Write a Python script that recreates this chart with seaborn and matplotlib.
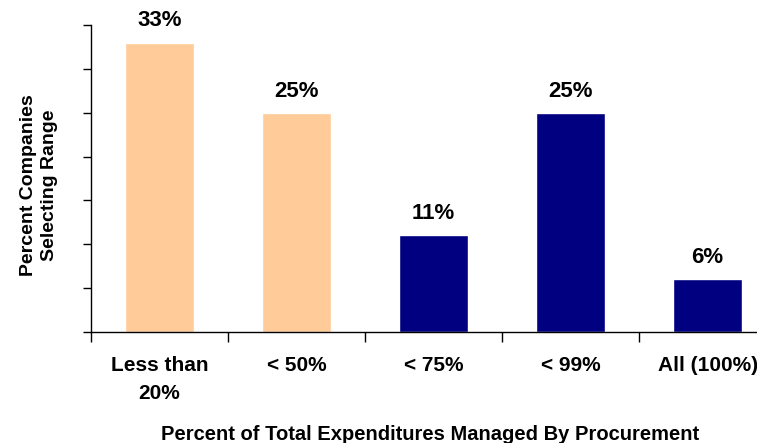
import matplotlib
matplotlib.use('Agg')
import matplotlib.pyplot as plt
import seaborn as sns
import numpy as np

categories = ['Less than\n20%', '< 50%', '< 75%', '< 99%', 'All (100%)']
values = [33, 25, 11, 25, 6]
value_labels = ['33%', '25%', '11%', '25%', '6%']
bar_colors = ['#FFCC99', '#FFCC99', '#000080', '#000080', '#000080']

sns.set_style('white')
plt.rcParams['font.family'] = ['Liberation Sans', 'DejaVu Sans']
plt.rcParams['text.color'] = 'black'
plt.rcParams['xtick.color'] = 'black'
plt.rcParams['ytick.color'] = 'black'

fig = plt.figure(figsize=(7.57, 4.43), dpi=100)
ax = fig.add_axes([0.1202, 0.2506, 0.905, 0.693])

sns.barplot(x=categories, y=values, hue=categories, palette=bar_colors,
            legend=False, width=0.5, saturation=1, ax=ax)

for i, (v, lab) in enumerate(zip(values, value_labels)):
    ax.annotate(lab, (i, v), xytext=(0, 8), textcoords='offset points',
                ha='center', va='bottom', fontsize=16, fontweight='bold', color='black')

ax.set_ylim(0, 35)
ax.set_xlim(-0.5, 4.5)
ax.set_yticks(np.arange(0, 36, 5))
ax.set_yticklabels([])
ax.tick_params(axis='y', direction='out', length=6, width=1, color='black', left=True)
ax.set_xticks(np.arange(-0.5, 5, 1), minor=True)
ax.tick_params(axis='x', which='minor', direction='out', length=7, width=1, color='black', bottom=True)
ax.tick_params(axis='x', which='major', length=0, pad=17)
for t in ax.get_xticklabels():
    t.set_fontsize(15)
    t.set_fontweight('bold')
    t.set_color('black')
    t.set_linespacing(1.6)
    t.set_verticalalignment('top')

for s in ['top', 'right']:
    ax.spines[s].set_visible(False)
for s in ['left', 'bottom']:
    ax.spines[s].set_color('black')
    ax.spines[s].set_linewidth(1)

fig.text(39 / 757, 1 - 185 / 443, 'Percent Companies\nSelecting Range', rotation=90,
         ha='center', va='center', multialignment='center', linespacing=1.3,
         fontsize=14, fontweight='bold', color='black')
fig.text(430 / 757, 1 - 434 / 443, 'Percent of Total Expenditures Managed By Procurement',
         ha='center', va='center', fontsize=14.5, fontweight='bold', color='black')

fig.savefig('out.png', dpi=100)
